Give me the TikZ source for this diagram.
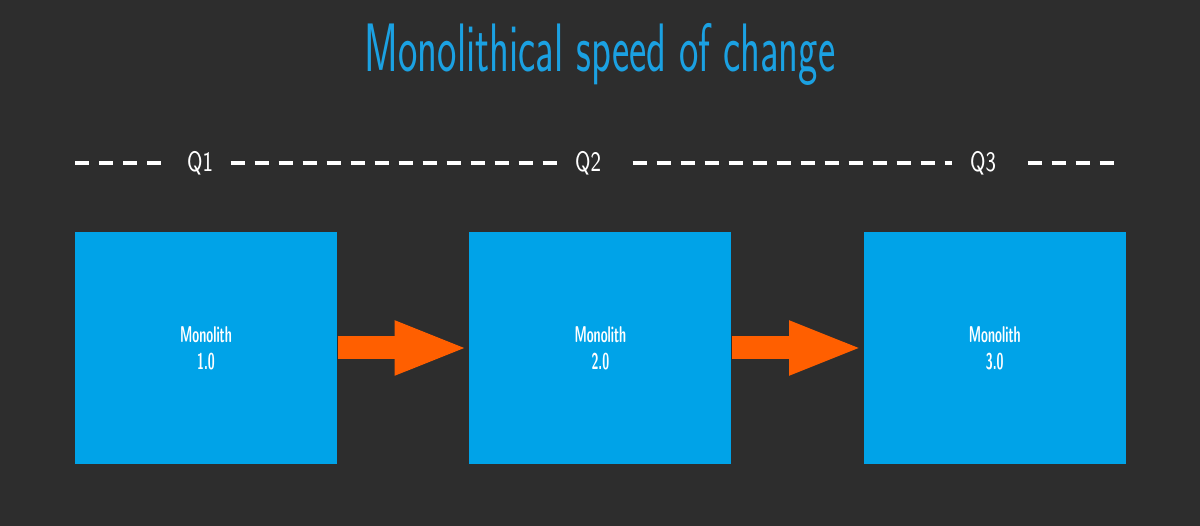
\documentclass[tikz,border=0pt]{standalone}
\usepackage{xcolor}
\usepackage{tikz}
\usetikzlibrary{positioning,calc,arrows.meta}

\definecolor{bgdark}{HTML}{2D2D2D}
\definecolor{monoblue}{HTML}{00A3E8}
\definecolor{titleblue}{HTML}{1BA1E2}
\definecolor{pushorange}{HTML}{FF5F00}
\newcommand{\narrow}[2]{\scalebox{#1}[1]{#2}}

\begin{document}
\begin{tikzpicture}[
    mono/.style={fill=monoblue, minimum width=2.62cm, minimum height=2.32cm, inner sep=0pt,
        align=center, text=white, font=\sffamily\bfseries\fontsize{6.5}{7.7}\selectfont},
    qlabel/.style={text=white, font=\sffamily\fontsize{8}{9}\selectfont, inner xsep=0.17cm},
    timeline/.style={white, line width=0.04cm, dash pattern=on 0.14cm off 0.1cm},
    push/.style={pushorange, line width=0.23cm, -{Triangle[length=0.74cm,width=0.49cm]}}
]
    % Background
    \fill[bgdark] (0,0) rectangle (12,5.26);
    % Title
    \node[anchor=base, text=titleblue, font=\sffamily\fontsize{19.5}{22}\selectfont] (title) at (6,4.54)
        {\narrow{0.6}{Monolithical speed of change}};
    % Quarters
    \coordinate (tlstart) at (0.75,3.63);
    \coordinate (tlend) at (11.15,3.63);
    \node[qlabel] (q1) at (2.00,3.63) {\narrow{0.7}{Q1}};
    \node[qlabel] (q2) at (5.88,3.63) {\narrow{0.7}{Q2}};
    \node[qlabel] (q3) at (9.83,3.63) {\narrow{0.7}{Q3}};
    \draw[timeline] (tlstart) -- (q1);
    \draw[timeline] (q1) -- (q2);
    \draw[timeline, shorten <=0.14cm] (q2) -- (q3);
    \draw[timeline, shorten <=0.14cm] (q3) -- (tlend);
    % Monoliths
    \node[mono] (box1) at (2.06,1.78) {\narrow{0.55}{Monolith}\\\narrow{0.55}{1.0}};
    \node[mono, right=1.31cm of box1] (box2) {\narrow{0.55}{Monolith}\\\narrow{0.55}{2.0}};
    \node[mono, right=1.31cm of box2] (box3) {\narrow{0.55}{Monolith}\\\narrow{0.55}{3.0}};
    % Arrows
    \draw[push] (box1) -- (box2);
    \draw[push] (box2) -- (box3);
\end{tikzpicture}
\end{document}
